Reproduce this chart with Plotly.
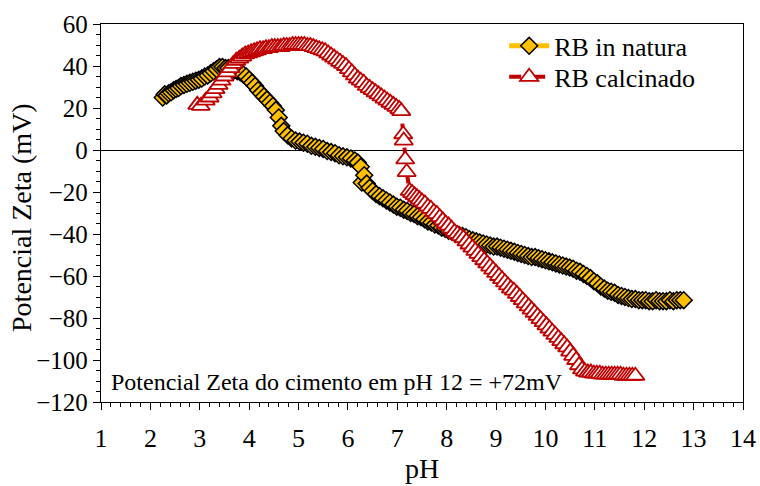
import plotly.graph_objects as go

# RB in natura (pH, zeta potential mV)
natura_ph = [2.25, 2.29, 2.33, 2.37, 2.42, 2.47, 2.52, 2.57, 2.62, 2.68, 2.74, 2.8, 2.86, 2.92, 2.98,
             3.04, 3.1, 3.16, 3.22, 3.28, 3.34, 3.4, 3.46, 3.52, 3.58, 3.64, 3.7, 3.76, 3.82, 3.88, 3.94,
             4.0, 4.06, 4.12, 4.18, 4.24, 4.3, 4.36, 4.42, 4.48, 4.54, 4.6, 4.65, 4.7, 4.78, 4.86, 4.94,
             5.02, 5.1, 5.18, 5.26, 5.34, 5.42, 5.5, 5.58, 5.66, 5.74, 5.82, 5.9, 5.98, 6.06, 6.14, 6.2,
             6.26, 6.28, 6.33, 6.38, 6.44, 6.5, 6.57, 6.64, 6.71, 6.78, 6.85, 6.92, 6.99, 7.06, 7.13, 7.2,
             7.27, 7.34, 7.41, 7.48, 7.55, 7.62, 7.69, 7.76, 7.83, 7.9, 7.97, 8.04, 8.11, 8.18, 8.25, 8.32,
             8.39, 8.46, 8.53, 8.6, 8.67, 8.74, 8.81, 8.88, 8.95, 9.02, 9.09, 9.16, 9.23, 9.3, 9.37, 9.44,
             9.51, 9.58, 9.65, 9.72, 9.79, 9.86, 9.93, 10.0, 10.07, 10.14, 10.21, 10.28, 10.35, 10.42,
             10.49, 10.56, 10.63, 10.7, 10.77, 10.84, 10.91, 10.98, 11.05, 11.12, 11.19, 11.26, 11.33,
             11.4, 11.47, 11.54, 11.61, 11.68, 11.75, 11.82, 11.89, 11.96, 12.03, 12.1, 12.17, 12.24,
             12.31, 12.38, 12.45, 12.52, 12.59, 12.66, 12.73, 12.8]
natura_zeta = [25, 26.5, 26, 27, 27.5, 28.5, 29, 29.5, 30.5, 31, 31.5, 32, 32.5, 33, 33.5,
               34, 35, 35.5, 36.5, 37.5, 38.5, 39.5, 39.5, 39, 39, 38.5, 38, 37.5, 37, 36, 35,
               33.5, 32, 30.5, 28.5, 27, 25.5, 24, 22.5, 21, 19, 15.5, 11.5, 9, 7, 5.5, 4.5,
               4, 3.5, 3, 2, 1.5, 1, 0.5, -0.5, -1, -1.5, -2.5, -3, -3.5, -4, -5, -6,
               -8, -15.5, -12, -16, -18, -19.5, -21, -22, -23, -24, -25, -26, -27, -27.5, -28.5, -29,
               -30, -30.5, -31.5, -32, -33, -34, -34.5, -35.5, -36, -37, -37.5, -38.5, -39, -40, -40.5, -41,
               -41.5, -42.5, -43, -43.5, -44, -44.5, -45, -45.5, -46, -46, -46.5, -47, -47.5, -48, -48.5, -49,
               -49.5, -50, -50.5, -51, -51, -51.5, -52, -52.5, -53, -53.5, -54, -54.5, -55, -55.5,
               -56, -56.5, -57.5, -58, -59, -60, -61, -62.5, -63.5, -65, -66, -67, -67.5,
               -68, -69, -69.5, -70, -70.5, -71, -71, -71.5, -71.5, -71.5, -72, -72, -71.5,
               -72, -72, -72, -71.5, -72, -71.5, -71.5, -71.5]

# RB calcinado (pH, zeta potential mV)
calc_ph = [2.95, 3.02, 3.12, 3.2, 3.26, 3.32, 3.38, 3.44, 3.5, 3.56, 3.62, 3.68, 3.74, 3.8, 3.86, 3.92,
           3.98, 4.04, 4.1, 4.16, 4.22, 4.28, 4.34, 4.4, 4.46, 4.52, 4.58, 4.64, 4.7, 4.76, 4.82, 4.88,
           4.94, 5.0, 5.06, 5.12, 5.18, 5.24, 5.3, 5.36, 5.42, 5.48, 5.54, 5.6, 5.66, 5.72, 5.78, 5.84,
           5.9, 5.96, 6.02, 6.08, 6.14, 6.2, 6.26, 6.32, 6.38, 6.44, 6.5, 6.56, 6.62, 6.68, 6.74, 6.8,
           6.86, 6.92, 6.98, 7.04, 7.08, 7.12, 7.13, 7.16, 7.19, 7.25, 7.3, 7.35, 7.4, 7.45, 7.5, 7.56,
           7.62, 7.68, 7.74, 7.8, 7.86, 7.92, 7.98, 8.04, 8.1, 8.16, 8.22, 8.28, 8.34, 8.4, 8.46, 8.52,
           8.58, 8.64, 8.7, 8.76, 8.82, 8.88, 8.94, 9.0, 9.06, 9.12, 9.18, 9.24, 9.3, 9.36, 9.42, 9.48,
           9.54, 9.6, 9.66, 9.72, 9.78, 9.84, 9.9, 9.96, 10.02, 10.08, 10.14, 10.2, 10.26, 10.32, 10.38,
           10.44, 10.5, 10.56, 10.62, 10.68, 10.74, 10.8, 10.86, 10.92, 10.98, 11.04, 11.1, 11.16, 11.22,
           11.28, 11.34, 11.4, 11.46, 11.52, 11.58, 11.64, 11.7, 11.76, 11.82]
calc_zeta = [21.5, 21, 23.5, 25, 27, 29, 31, 33, 35, 37, 39, 41, 42.5, 43.5, 44.5, 45.5,
             46, 46.5, 47, 47.5, 48, 48, 48.5, 48.5, 49, 49, 49, 49, 49.5, 49.5, 49.5, 50,
             50, 50, 50, 50, 49.5, 49.5, 49, 48.5, 48, 47.5, 47, 46, 45, 44, 43, 42,
             41, 40, 38.5, 37, 35.5, 34, 33, 32, 30.5, 29.5, 28.5, 27.5, 26.5, 25.5, 24.5, 23.5,
             22.5, 21.5, 20.5, 19.5, 18.5, 7.5, 4.5, -4.5, -10.5, -19.5, -20.5, -21.5, -22.5, -23.5, -24.5, -25.5,
             -27, -28, -29.5, -30.5, -32, -33.5, -35, -36, -37.5, -39, -40, -41, -42, -43.5, -45, -46.5,
             -48, -49.5, -51, -52.5, -54, -55.5, -57, -58.5, -60, -61.5, -63, -64.5, -66, -67, -68.5, -70,
             -71.5, -73, -74.5, -76, -77.5, -79, -80.5, -82, -83.5, -85, -86.5, -88, -89.5, -91, -92.5,
             -94, -96, -98, -100, -102.5, -104.5, -105.5, -106, -106, -106.5, -106.5, -106.5, -107, -107,
             -107, -107, -107, -107, -107, -107.5, -107.5, -107.5, -107.5, -107.5]

x_ticks = list(range(1, 15))
y_ticks = list(range(-120, 61, 20))

FONT = "Liberation Serif, Times New Roman, DejaVu Serif, serif"

fig = go.Figure()
fig.add_trace(go.Scatter(
    x=natura_ph, y=natura_zeta, name="RB in natura", mode="lines+markers",
    line=dict(color="#FFC000", width=5),
    marker=dict(symbol="diamond", size=13, color="#FFC000", line=dict(color="black", width=1.5)),
    legend="legend",
))
fig.add_trace(go.Scatter(
    x=calc_ph, y=calc_zeta, name="RB calcinado", mode="lines+markers",
    line=dict(color="#C00000", width=4, dash="dash"),
    marker=dict(symbol="triangle-up", size=16, color="white", line=dict(color="#C00000", width=1.8)),
    legend="legend2",
))

fig.add_annotation(
    x=0.012, y=0.052, xref="paper", yref="paper", xanchor="left", yanchor="middle",
    text="Potencial Zeta do cimento em pH 12 = +72mV", showarrow=False,
    font=dict(family=FONT, size=24, color="black"),
)
# y-axis title placed as rotated text
fig.add_annotation(
    x=-0.123, y=0.487, xref="paper", yref="paper", xanchor="center", yanchor="middle",
    text="Potencial Zeta (mV)", showarrow=False, textangle=-90,
    font=dict(family=FONT, size=28, color="black"),
)

axis_common = dict(
    showline=True, linecolor="black", linewidth=1.3, mirror=True,
    showgrid=False, ticks="outside", tickcolor="black", tickwidth=1.3,
)

fig.update_xaxes(
    range=[1, 14], tickmode="array", tickvals=x_ticks, ticklen=7,
    minor=dict(dtick=0.2, ticklen=4, ticks="outside", tickcolor="black", tickwidth=1),
    tickfont=dict(family=FONT, size=26, color="black"),
    title=dict(text="pH", font=dict(family=FONT, size=28, color="black"), standoff=6),
    ticklabelstandoff=6, zeroline=False, automargin=False,
    **axis_common,
)
fig.update_yaxes(
    range=[-120, 60], tickmode="array", tickvals=y_ticks, ticklen=7,
    minor=dict(dtick=5, ticklen=4, ticks="outside", tickcolor="black", tickwidth=1),
    tickfont=dict(family=FONT, size=25, color="black"),
    zeroline=True, zerolinecolor="black", zerolinewidth=1.3, automargin=False,
    **axis_common,
)

leg_common = dict(xanchor="left", yanchor="middle",
                  font=dict(family=FONT, size=26, color="black"),
                  bgcolor="rgba(0,0,0,0)", itemwidth=40)

fig.update_layout(
    width=760, height=486,
    margin=dict(l=101, r=17, t=24, b=84),
    paper_bgcolor="white", plot_bgcolor="white",
    showlegend=True,
    legend=dict(x=0.628, y=0.942, **leg_common),
    legend2=dict(x=0.628, y=0.86, **leg_common),
    font=dict(family=FONT),
)

fig.write_html("out.html", post_script="document.body.style.margin='0';",
               config={"displayModeBar": False})
